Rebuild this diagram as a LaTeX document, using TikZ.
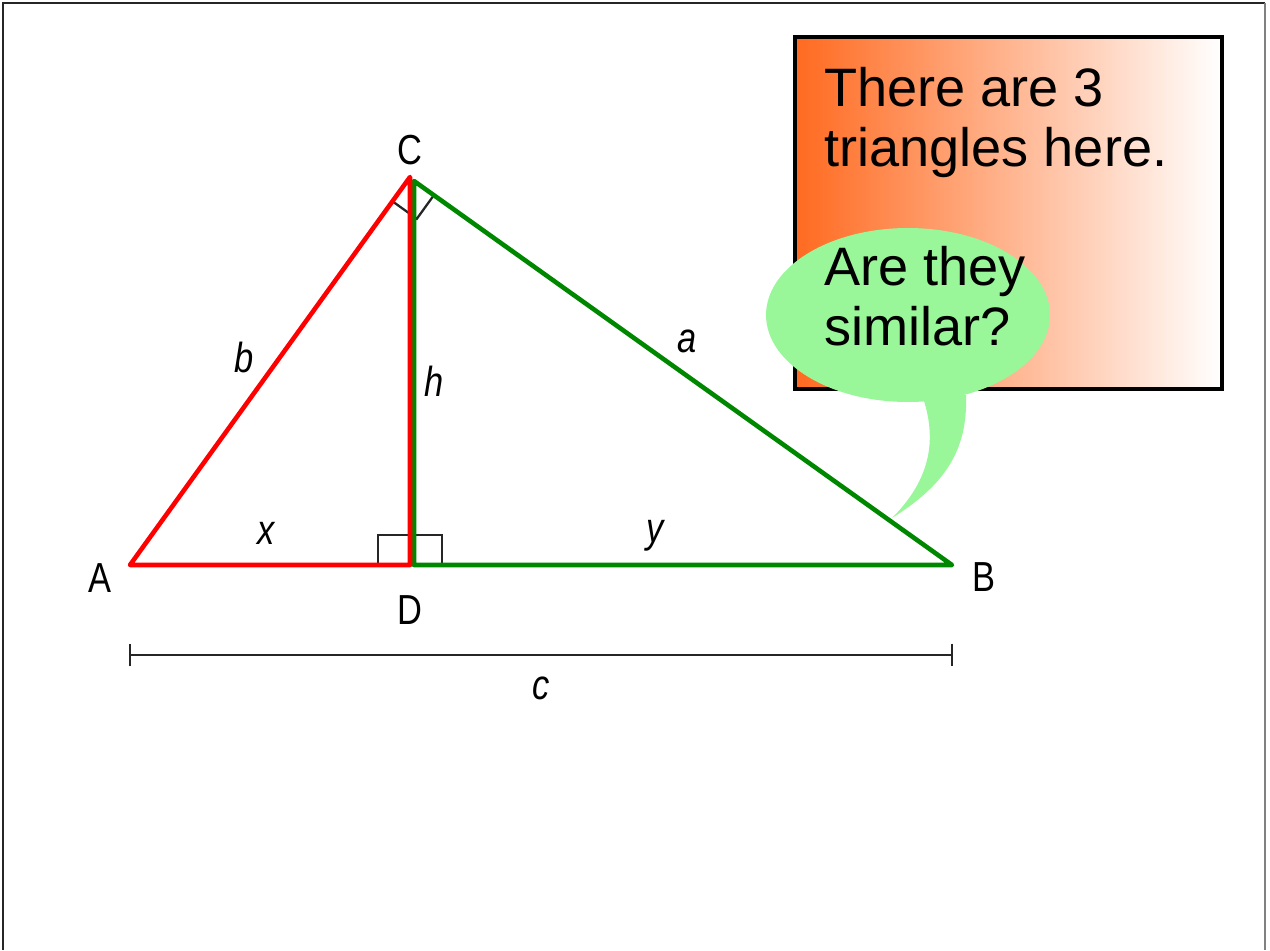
\documentclass[tikz,border=0pt]{standalone}
\usepackage{fontspec}
\setmainfont{Liberation Sans}
\newfontfamily\narrowfont[FakeStretch=0.82]{Liberation Sans}
\usepackage{xcolor}
\usetikzlibrary{arrows.meta, positioning, calc}
\definecolor{boxorange}{RGB}{255,106,32}
\definecolor{bubblegreen}{RGB}{153,247,153}
\definecolor{sidegreen}{RGB}{0,135,0}
\definecolor{sidered}{RGB}{255,0,0}

\begin{document}
\begin{tikzpicture}[
    x=0.02cm, y=-0.02cm,
    side/.style={line width=2.6pt, line join=round},
    anglemark/.style={line width=1.3pt, black!85},
    vlabel/.style={font=\narrowfont\fontsize{23.9}{26}\selectfont, inner sep=0pt},
    slabel/.style={font=\narrowfont\itshape\fontsize{23.9}{26}\selectfont, inner sep=0pt},
    bigtext/.style={font=\fontsize{30.8}{33.6}\selectfont, align=left,
      inner sep=0pt, anchor=base west}
]
\useasboundingbox (0,0) rectangle (1270,950);

% frame
\draw[line width=1.5pt, black!85] (3,950) -- (3,3) -- (1265,3);
\draw[line width=1.5pt, black!50] (1265,3) -- (1265,950);

% box with the question
\shade[left color=boxorange, right color=white] (795,37) rectangle (1222,389);
\draw[line width=2.2pt] (795,37) rectangle (1222,389);
\node[bigtext] (count) at (824,166) {There are 3\\triangles here.};

% speech bubble
\fill[bubblegreen] (908,315) ellipse [x radius=2.84cm, y radius=1.74cm];
\fill[bubblegreen] (922,395) .. controls (938,440) and (930,480) .. (892,518)
  .. controls (945,485) and (968,450) .. (966,395) -- cycle;
\node[bigtext] (ask) at (824,345) {Are they\\similar?};

\coordinate (A) at (130,565);
\coordinate (D) at (410,565);
\coordinate (B) at (952,565);
\coordinate (C) at (410,177);

% right angles
\draw[anglemark] (378,535) rectangle (442,565);
\coordinate (ca) at ($(C)!0.6cm!(A)$);
\coordinate (cb) at ($(C)!0.6cm!(B)$);
\draw[anglemark] (ca) -- ($(ca)+(cb)-(C)$) -- (cb);

% the two small triangles
\draw[side, sidegreen] ($(C)+(4,4)$) -- (B) -- ($(D)+(4,0)$) -- cycle;
\draw[side, sidered] (C) -- (A) -- (D) -- cycle;

% length c
\coordinate (cl) at (129,655);
\coordinate (cr) at (953,655);
\draw[anglemark, {Bar[width=13pt]}-{Bar[width=13pt]}] (cl) -- (cr);

\node[vlabel, above=0.24cm of C] (lC) {C};
\node[vlabel, below=0.6cm of D] (lD) {D};
\node[vlabel, left=0.36cm of A, yshift=-0.26cm] (lA) {A};
\node[vlabel, right=0.4cm of B, yshift=-0.24cm] (lB) {B};

\node[slabel] (lb) at (244,357) {b};
\node[slabel] (lh) at (434,381) {h};
\node[slabel] (la) at (687,341) {a};
\node[slabel] (lx) at (266,533) {x};
\node[slabel] (ly) at (655,536) {y};
\node[slabel] (lc) at (541,688) {c};

\end{tikzpicture}
\end{document}
